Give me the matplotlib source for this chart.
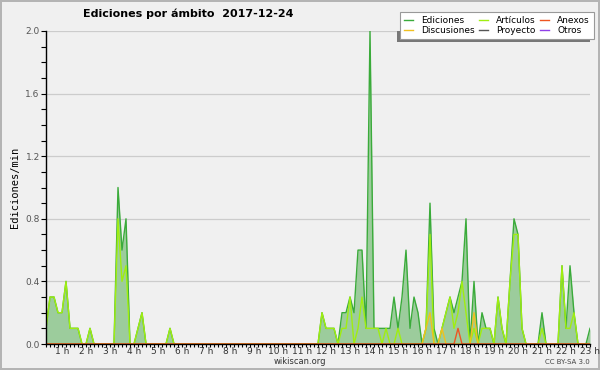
import numpy as np
import matplotlib
matplotlib.use("Agg")
import matplotlib.pyplot as plt
from matplotlib.patches import Rectangle

# valeurs par tranche de 10 min, de 0:20 a 23:00
ediciones = [0.1, 0.3, 0.3, 0.2, 0.2, 0.4, 0.1, 0.1, 0.1, 0, 0, 0.1, 0, 0, 0, 0, 0, 0,
             1.0, 0.6, 0.8, 0, 0, 0.1, 0.2, 0, 0, 0, 0, 0, 0, 0.1] + [0] * 37 + \
            [0.2, 0.1, 0.1, 0.1, 0, 0.2, 0.2, 0.3, 0.2, 0.6, 0.6, 0.1, 2.0, 0.1, 0.1, 0.1,
             0.1, 0.1, 0.3, 0.1, 0.3, 0.6, 0.1, 0.3, 0.2, 0, 0.1, 0.9, 0.1, 0, 0.1, 0.2,
             0.3, 0.2, 0.3, 0.4, 0.8, 0, 0.4, 0, 0.2, 0.1, 0.1, 0, 0.3, 0.1, 0, 0.4, 0.8,
             0.7, 0.1, 0, 0, 0, 0, 0.2, 0, 0, 0, 0, 0.5, 0.1, 0.5, 0.2, 0, 0, 0, 0.1]
articulos = [0.1, 0.3, 0.3, 0.2, 0.2, 0.4, 0.1, 0.1, 0.1, 0, 0, 0.1, 0, 0, 0, 0, 0, 0,
             0.8, 0.4, 0.5, 0, 0, 0.1, 0.2, 0, 0, 0, 0, 0, 0, 0.1] + [0] * 37 + \
            [0.2, 0.1, 0.1, 0.1, 0, 0.1, 0.1, 0.3, 0, 0.1, 0.3, 0.1, 0.1, 0.1, 0.1,
             0, 0.1, 0, 0, 0.1, 0, 0, 0, 0, 0, 0, 0.1, 0.7, 0, 0, 0.1, 0.2, 0.3, 0.1, 0.2,
             0.4, 0.2, 0, 0.1, 0, 0.1, 0.1, 0.1, 0, 0.3, 0.1, 0, 0.4, 0.7, 0.7, 0.1, 0,
             0, 0, 0, 0.1, 0, 0, 0, 0, 0.5, 0.1, 0.1, 0.2, 0, 0, 0, 0]
discusiones = [0] * 95 + [0.1, 0.2, 0, 0, 0.1] + [0] * 7 + [0.2] + [0] * 29
anexos = [0] * 103 + [0.1] + [0] * 33
proyecto = [0] * 137
otros = [0] * 137

t = (np.arange(len(ediciones)) * 10 + 20) / 60.0
heures = list(range(1, 24))
etiquettes = ["%d h" % h for h in heures]

fond = "#f0f0f0"
fig = plt.figure(figsize=(6, 3.7), dpi=100, facecolor=fond, edgecolor="#b4b4b4", linewidth=1.5)
ax = fig.add_axes([46 / 600, 26 / 370, 544 / 600, 313 / 370])
ax.set_facecolor(fond)

ax.fill_between(t, 0, ediciones, color="#9ccc9c", lw=0, zorder=2)
l_ed, = ax.plot(t, ediciones, color="#3aab3a", lw=1.0, zorder=3)
l_pr, = ax.plot(t, proyecto, color="#555555", lw=1.0, zorder=2.5)
l_ot, = ax.plot(t, otros, color="#9040e8", lw=1.0, zorder=2.5)
l_ar, = ax.plot(t, articulos, color="#a0ee10", lw=1.0, zorder=4)
l_di, = ax.plot(t, discusiones, color="#f0c020", lw=1.0, zorder=4.5)
l_an, = ax.plot(t, anexos, color="#ee5522", lw=1.0, zorder=4.6)

ax.set_xlim(t[0], t[-1])
ax.set_ylim(0, 2.0)
ax.set_yticks(np.arange(0, 2.01, 0.4))
ax.set_yticklabels(["%.1f" % v for v in np.arange(0, 2.01, 0.4)])
ax.set_yticks(np.arange(0, 2.01, 0.1), minor=True)
ax.set_xticks(heures)
ax.set_xticklabels(etiquettes)
ax.set_xticks(t, minor=True)
ax.tick_params(axis="x", which="both", length=2.5, width=0.8, direction="out", pad=0,
               labelsize=6.5, labelcolor="#333333")
ax.tick_params(axis="y", which="both", length=3.5, width=0.8, direction="out", pad=1,
               labelsize=6.5, labelcolor="#555555")
ax.grid(axis="y", which="major", color="#cccccc", lw=0.9)
ax.set_axisbelow(True)
for s in ["top", "right"]:
    ax.spines[s].set_visible(False)
for s in ["left", "bottom"]:
    ax.spines[s].set_linewidth(1.0)
    ax.spines[s].set_zorder(6)

ax.set_ylabel("Ediciones/min", family="DejaVu Sans Mono", fontsize=7.5, labelpad=4)
fig.text(188 / 600, 1 - 14 / 370, "Ediciones por ámbito  2017-12-24", ha="center", va="center",
         fontsize=8, fontweight="bold")
fig.text(300 / 600, 1 - 362 / 370, "wikiscan.org", ha="center", va="center", fontsize=6, color="#333333")
fig.text(590 / 600, 1 - 362 / 370, "CC BY-SA 3.0", ha="right", va="center", fontsize=5, color="#444444")

leg = ax.legend([l_ed, l_di, l_ar, l_pr, l_an, l_ot],
                ["Ediciones", "Discusiones", "Artículos", "Proyecto", "Anexos", "Otros"],
                ncol=3, loc="upper right", bbox_to_anchor=(594 / 600, 1 - 12 / 370),
                bbox_transform=fig.transFigure, borderaxespad=0, fontsize=6.5,
                handlelength=1.0, handletextpad=0.9, columnspacing=0.5, labelspacing=0.15,
                borderpad=0.45, fancybox=False, framealpha=1, edgecolor="#999999")
leg.set_zorder(10)
leg.get_frame().set_linewidth(0.8)

# ombre du cadre de legende, decalee vers le bas a gauche
fig.canvas.draw()
bb = leg.get_window_extent()
ombre = Rectangle((bb.x0 - 3, bb.y0 - 3), bb.width, bb.height, transform=None,
                  facecolor="#777777", edgecolor="none", zorder=9)
ax.add_artist(ombre)

plt.savefig("out.png", dpi=100, facecolor=fond, edgecolor="#b4b4b4")
